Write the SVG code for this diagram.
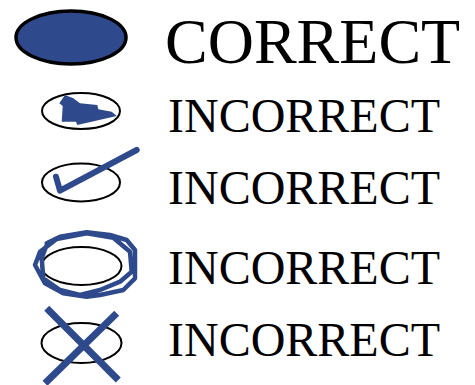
<svg xmlns="http://www.w3.org/2000/svg" width="475" height="385" viewBox="0 0 475 385">
<style>
.lbl{font-family:"Liberation Serif","Times New Roman",serif;fill:#000}
.ov{fill:#fff;stroke:#000;stroke-width:2}
.blue{fill:none;stroke:#2f4a8c}
</style>
<rect width="475" height="385" fill="#fff"/>
<g id="correct">
<ellipse cx="71" cy="37.5" rx="55" ry="26.5" fill="#2f4a8c" stroke="#000" stroke-width="3.5"/>
<text class="lbl" x="165" y="63" font-size="64">CORRECT</text>
</g>
<g id="incorrect-shoe">
<ellipse class="ov" cx="81" cy="111" rx="39" ry="18"/>
<polygon fill="#2f4a8c" points="65,95 59.3,103.3 62.7,106 61.7,121.7 76,121.7 77.3,125 116.7,116 111.7,111.7 98.3,109.3 97.3,105 80,103.3 73.3,98.3"/>
<text class="lbl" x="168" y="131.7" font-size="48">INCORRECT</text>
</g>
<g id="incorrect-check">
<ellipse class="ov" cx="81" cy="182.5" rx="39" ry="19"/>
<polyline class="blue" stroke-width="6" stroke-linecap="round" stroke-linejoin="round" points="56,176.7 60,190.7 136.7,150"/>
<text class="lbl" x="168" y="204.3" font-size="48">INCORRECT</text>
</g>
<g id="incorrect-circle">
<ellipse class="ov" cx="81.5" cy="266" rx="40" ry="19"/>
<path class="blue" stroke-width="4.5" stroke-linejoin="round" stroke-linecap="round" d="M46.7,243.3 L60,236.7 L86.7,232.3 L110,235 L126.7,240 L135,250 L135,278.3 L123.3,290 L100,295 L86.7,296.7 L63.3,293.3 L45,283.3 L35,265 L40,251.7 L56.7,239 L86.7,233.3 L113.3,237.7 L130,251.7 L131.7,271.7 L120,281.7 L100,290 L80,295 L60,290 L43.3,278.3 L41.7,258.3 L46.7,245"/>
<text class="lbl" x="168" y="284.3" font-size="48">INCORRECT</text>
</g>
<g id="incorrect-cross">
<ellipse class="ov" cx="81.5" cy="343" rx="40" ry="20"/>
<line class="blue" stroke-width="7" x1="46.7" y1="308.3" x2="118.3" y2="380"/>
<line class="blue" stroke-width="7" x1="116.7" y1="313.3" x2="45" y2="383.3"/>
<text class="lbl" x="168" y="356" font-size="48">INCORRECT</text>
</g>
<g id="connectors"/>
</svg>
